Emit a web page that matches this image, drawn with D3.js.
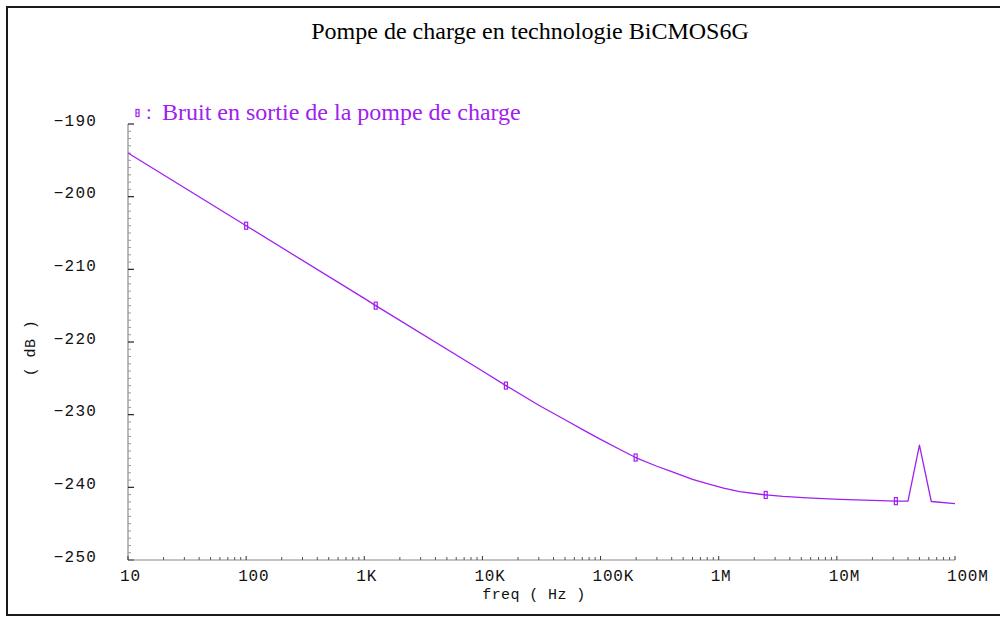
<!DOCTYPE html>
<html>
<head>
<meta charset="utf-8">
<script src="https://cdn.jsdelivr.net/npm/d3@7"></script>
<style>
  html, body { margin: 0; padding: 0; background: #fff; }
  svg { display: block; }
  .mono { font-family: "Liberation Mono", "DejaVu Sans Mono", monospace; }
</style>
</head>
<body>
<svg id="chart" width="1000" height="617"></svg>
<script>
// Output noise of the charge pump (dB) versus frequency (Hz)
const freq = [10, 100, 1000, 1250, 10000, 15800, 30000, 50000, 75000, 100000, 150000,
              198000, 300000, 400000, 600000, 800000, 1100000, 1500000, 2500000, 3500000,
              5600000, 10600000, 20000000, 31600000, 40000000, 50000000, 63000000, 100000000];
const noiseDb = [-194.0, -204.0, -214.0, -215.0, -224.0, -226.0, -228.7, -230.7, -232.3, -233.4, -234.9,
                 -235.9, -237.1, -237.85, -238.9, -239.5, -240.1, -240.6, -241.05, -241.25,
                 -241.45, -241.65, -241.8, -241.9, -241.9, -234.2, -241.95, -242.25];
// Frequencies carrying a symbol on the trace
const markerFreq = [100, 1250, 15800, 198000, 2500000, 31600000];

const xTickValues = [10, 100, 1e3, 1e4, 1e5, 1e6, 1e7, 1e8];
const xTickLabels = ["10", "100", "1K", "10K", "100K", "1M", "10M", "100M"];
const yTickValues = [-190, -200, -210, -220, -230, -240, -250];

const title = "Pompe de charge en technologie BiCMOS6G";
const seriesName = "Bruit en sortie de la pompe de charge";
const purple = "#a020f0";
const serif = "'Liberation Serif', 'Times New Roman', serif";

const svg = d3.select("#chart");

// outer frame
svg.append("rect")
  .attr("x", 7).attr("y", 7).attr("width", 1010).attr("height", 608)
  .attr("fill", "none").attr("stroke", "#1a1a1a").attr("stroke-width", 2);

const x = d3.scaleLog().domain([10, 1e8]).range([128, 955]);
const y = d3.scaleLinear().domain([-250, -190]).range([560, 124]);

// title
svg.append("text")
  .attr("x", 530).attr("y", 39)
  .attr("text-anchor", "middle")
  .attr("font-family", serif)
  .attr("font-size", 24)
  .attr("fill", "#000")
  .text(title);

// y axis: line, minor ticks every 1 dB, major every 10 dB
const gY = svg.append("g");
gY.append("line")
  .attr("x1", x(10)).attr("x2", x(10))
  .attr("y1", y(-190)).attr("y2", y(-250))
  .attr("stroke", "#8a8a8a").attr("stroke-width", 1.2);
gY.selectAll("line.minor")
  .data(d3.range(-250, -189, 1).filter(v => v % 10 !== 0))
  .join("line").attr("class", "minor")
  .attr("x1", x(10)).attr("x2", x(10) + 3)
  .attr("y1", d => y(d)).attr("y2", d => y(d))
  .attr("stroke", "#9a9a9a").attr("stroke-width", 1);
gY.selectAll("line.major")
  .data(yTickValues)
  .join("line").attr("class", "major")
  .attr("x1", x(10)).attr("x2", x(10) + 6)
  .attr("y1", d => y(d)).attr("y2", d => y(d))
  .attr("stroke", "#222").attr("stroke-width", 1.2);
gY.selectAll("text")
  .data(yTickValues)
  .join("text")
  .attr("class", "mono")
  .attr("x", 97).attr("y", d => y(d) - 4)
  .attr("dy", "0.35em")
  .attr("text-anchor", "end")
  .attr("font-size", 16)
  .attr("letter-spacing", 1.2)
  .attr("fill", "#111")
  .text(d => d3.format("d")(d).replace("-", "\u2212"));

// x axis: line, minor ticks 2..9 per decade, labels at decades
const gX = svg.append("g");
gX.append("line")
  .attr("x1", x(10)).attr("x2", x(1e8))
  .attr("y1", y(-250)).attr("y2", y(-250))
  .attr("stroke", "#8a8a8a").attr("stroke-width", 1.2);
const minorX = [];
for (let dec = 10; dec < 1e8; dec *= 10) {
  for (let k = 2; k <= 9; k++) minorX.push(dec * k);
}
gX.selectAll("line.minor")
  .data(minorX)
  .join("line").attr("class", "minor")
  .attr("x1", d => x(d)).attr("x2", d => x(d))
  .attr("y1", y(-250)).attr("y2", y(-250) - 3)
  .attr("stroke", "#555").attr("stroke-width", 1);
gX.selectAll("line.major")
  .data(xTickValues)
  .join("line").attr("class", "major")
  .attr("x1", d => x(d)).attr("x2", d => x(d))
  .attr("y1", y(-250)).attr("y2", y(-250) - 4)
  .attr("stroke", "#333").attr("stroke-width", 1);
gX.selectAll("text")
  .data(xTickValues)
  .join("text")
  .attr("class", "mono")
  .attr("x", d => x(d) - 8).attr("y", 581)
  .attr("text-anchor", "start")
  .attr("font-size", 16)
  .attr("letter-spacing", 0.8)
  .attr("fill", "#111")
  .text((d, i) => xTickLabels[i]);

// axis titles
svg.append("text")
  .attr("class", "mono")
  .attr("x", 534).attr("y", 599)
  .attr("text-anchor", "middle")
  .attr("font-size", 15)
  .attr("letter-spacing", 0.4)
  .attr("fill", "#111")
  .text("freq ( Hz )");
svg.append("text")
  .attr("class", "mono")
  .attr("transform", "translate(35,348) rotate(-90)")
  .attr("text-anchor", "middle")
  .attr("font-size", 15)
  .attr("letter-spacing", 0.4)
  .attr("fill", "#111")
  .text("( dB )");

// noise trace
const data = freq.map((f, i) => ({ f, v: noiseDb[i] }));
const line = d3.line().x(d => x(d.f)).y(d => y(d.v)).curve(d3.curveLinear);
svg.append("path")
  .datum(data)
  .attr("fill", "none")
  .attr("stroke", purple)
  .attr("stroke-width", 1.3)
  .attr("stroke-linejoin", "round")
  .attr("d", line);

// symbol: small tall box with a centre bar
function drawMarker(g, cx, cy) {
  g.append("rect")
    .attr("x", cx - 1.5).attr("y", cy - 3.5).attr("width", 3).attr("height", 7)
    .attr("fill", "none").attr("stroke", purple).attr("stroke-width", 1.2);
  g.append("line")
    .attr("x1", cx - 1.5).attr("x2", cx + 1.5).attr("y1", cy).attr("y2", cy)
    .attr("stroke", purple).attr("stroke-width", 0.9);
}
const gM = svg.append("g");
data.filter(d => markerFreq.includes(d.f)).forEach(d => drawMarker(gM, x(d.f), y(d.v)));

// legend
const gL = svg.append("g");
drawMarker(gL, 137.5, 113);
gL.append("text")
  .attr("x", 146).attr("y", 119)
  .attr("font-family", serif)
  .attr("font-size", 20)
  .attr("fill", purple)
  .text(":");
gL.append("text")
  .attr("x", 162).attr("y", 120)
  .attr("font-family", serif)
  .attr("font-size", 24)
  .attr("fill", purple)
  .text(seriesName);
</script>
</body>
</html>
